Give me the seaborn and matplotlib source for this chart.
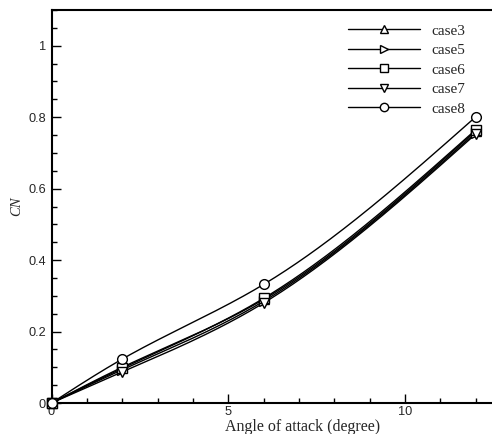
import numpy as np
import pandas as pd
import matplotlib
matplotlib.use("Agg")
import matplotlib.pyplot as plt
import seaborn as sns
from matplotlib.lines import Line2D
from matplotlib.ticker import MultipleLocator

# ---- data ----
angles = [0, 2, 6, 12]
case_names = ["case3", "case5", "case6", "case7", "case8"]
case3 = [0.0, 0.100, 0.290, 0.762]
case5 = [0.0, 0.093, 0.285, 0.757]
case6 = [0.0, 0.097, 0.293, 0.765]
case7 = [0.0, 0.087, 0.280, 0.753]
case8 = [0.0, 0.123, 0.332, 0.801]
series = [case3, case5, case6, case7, case8]
markers = ["^", ">", "s", "v", "o"]
x_ticks = [0, 5, 10]
y_ticks = [0, 0.2, 0.4, 0.6, 0.8, 1.0]
y_ticklabels = ["0", "0.2", "0.4", "0.6", "0.8", "1"]


def natural_spline(x, y, xs):
    x = np.asarray(x, float); y = np.asarray(y, float)
    n = len(x)
    h = np.diff(x)
    A = np.zeros((n, n)); b = np.zeros(n)
    A[0, 0] = 1; A[-1, -1] = 1
    for i in range(1, n - 1):
        A[i, i - 1] = h[i - 1]
        A[i, i] = 2 * (h[i - 1] + h[i])
        A[i, i + 1] = h[i]
        b[i] = 3 * ((y[i + 1] - y[i]) / h[i] - (y[i] - y[i - 1]) / h[i - 1])
    c = np.linalg.solve(A, b)
    out = np.empty_like(xs)
    for k, xv in enumerate(xs):
        i = min(np.searchsorted(x, xv, side="right") - 1, n - 2)
        i = max(i, 0)
        dx = xv - x[i]
        bb = (y[i + 1] - y[i]) / h[i] - h[i] * (2 * c[i] + c[i + 1]) / 3
        d = (c[i + 1] - c[i]) / (3 * h[i])
        out[k] = y[i] + bb * dx + c[i] * dx ** 2 + d * dx ** 3
    return out


sns.set_style("ticks")
plt.rcParams["font.family"] = ["Liberation Sans", "DejaVu Sans"]

fig = plt.figure(figsize=(4.92, 4.34), dpi=100)
ax = fig.add_axes([0.1047, 0.0714, 0.8953, 0.9055])

xs = np.linspace(0, 12, 200)
rows = []
pts = []
for name, vals in zip(case_names, series):
    ys = natural_spline(angles, vals, xs)
    for a, v in zip(xs, ys):
        rows.append((name, a, v))
    for a, v in zip(angles, vals):
        pts.append((name, a, v))
curve = pd.DataFrame(rows, columns=["case", "angle", "cn"])
pdf = pd.DataFrame(pts, columns=["case", "angle", "cn"])

for name, m in zip(case_names, markers):
    sub = curve[curve["case"] == name]
    sns.lineplot(data=sub, x="angle", y="cn", ax=ax, color="black", lw=1.0,
                 legend=False, sort=False, estimator=None)
    sp = pdf[pdf["case"] == name]
    ax.plot(sp["angle"], sp["cn"], linestyle="none", marker=m, ms=7,
            mfc="white", mec="black", mew=1.0, zorder=5, clip_on=False)

ax.set_xlim(0, 12.46)
ax.set_ylim(0, 1.1)
ax.set_xticks(x_ticks)
ax.set_yticks(y_ticks)
ax.set_yticklabels(y_ticklabels)
ax.xaxis.set_minor_locator(MultipleLocator(1))
ax.yaxis.set_minor_locator(MultipleLocator(0.05))
ax.tick_params(which="both", direction="in", top=False, right=False,
               labelsize=9.2, width=1.0, color="black")
ax.tick_params(which="major", length=6.5)
ax.tick_params(which="minor", length=3.5)
ax.tick_params(axis="y", pad=4)
ax.tick_params(axis="x", pad=2)
for s in ax.spines.values():
    s.set_linewidth(1.5)
    s.set_color("black")
ax.spines["right"].set_visible(False)

ax.set_xlabel("Angle of attack (degree)", family="Liberation Serif", fontsize=11.5)
ax.xaxis.set_label_coords(0.569, -(427 - 403) / 393, transform=ax.transAxes)
ax.xaxis.label.set_va("center")
ax.set_ylabel("CN", family="Liberation Serif", style="italic", fontsize=10.5)
ax.yaxis.set_label_coords((17 - 51.5) / 440.5, 0.5)
ax.yaxis.label.set_va("center")

handles = [Line2D([0], [0], color="black", lw=1.0, marker=m, ms=6,
                  mfc="white", mec="black", mew=1.0) for m in markers]
leg = ax.legend(handles, case_names, loc="upper left",
                bbox_to_anchor=((348 - 51.5) / 440.5, 1.0 - (24 - 10) / 393),
                borderaxespad=0, borderpad=0,
                frameon=False, handlelength=4.7, handletextpad=0.75,
                labelspacing=0.38, prop={"family": "Liberation Serif", "size": 11})

fig.savefig("out.png", dpi=100)
